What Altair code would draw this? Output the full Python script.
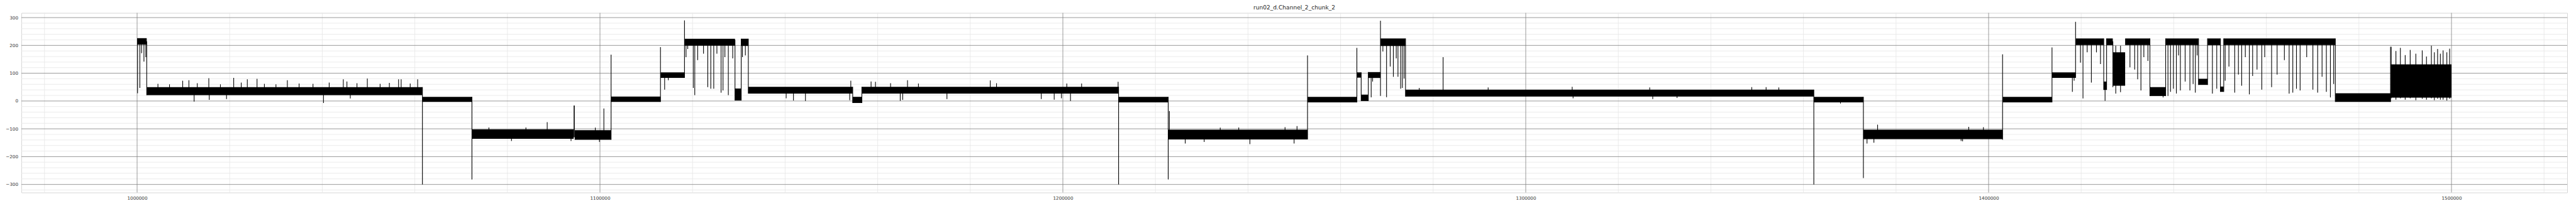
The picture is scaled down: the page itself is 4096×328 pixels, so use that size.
import altair as alt
import pandas as pd

TITLE = "run02_d.Channel_2_chunk_2"

# axis tick values
x_major = [1000000, 1100000, 1200000, 1300000, 1400000, 1500000]
x_minor = [980000, 1020000, 1040000, 1060000, 1080000, 1120000, 1140000, 1160000,
           1180000, 1220000, 1240000, 1260000, 1280000, 1320000, 1340000, 1360000,
           1380000, 1420000, 1440000, 1460000, 1480000, 1520000]
y_major = [-300, -200, -100, 0, 100, 200, 300]
y_minor = [-320, -280, -260, -240, -220, -180, -160, -140, -120, -80, -60, -40, -20,
           20, 40, 60, 80, 120, 140, 160, 180, 220, 240, 260, 280]

# noise bands of the signal: start, end, low, high
band_x0 = [1000000, 1002080, 1061640, 1072340, 1094320, 1094540, 1102400, 1113070,
           1118260, 1129170, 1130510, 1132050, 1154600, 1156580, 1212040, 1222760,
           1252860, 1263520, 1264450, 1265990, 1268620, 1274030, 1362240, 1372950,
           1403020, 1413700, 1418790, 1424870, 1425490, 1426830, 1429500, 1434850,
           1438250, 1445350, 1447300, 1450080, 1450800, 1474900, 1486840]
band_x1 = [1002080, 1061640, 1072340, 1094320, 1094540, 1102400, 1113070, 1118260,
           1129170, 1130510, 1132050, 1154600, 1156580, 1212040, 1222760, 1252860,
           1263520, 1264450, 1265990, 1268620, 1274030, 1362240, 1372950, 1403020,
           1413700, 1418790, 1424870, 1425490, 1426830, 1429500, 1434850, 1438250,
           1445350, 1447300, 1450080, 1450800, 1474900, 1486840, 1500000]
band_lo = [203, 21, -3, -136, -130, -139, -3, 83,
           199, 2, 198, 27, -7, 27, -5, -138,
           -5, 84, 0, 83, 198, 16, -5, -137,
           -5, 83, 201, 40, 201, 55, 201, 18,
           201, 58, 201, 33, 201, -3, 12]
band_hi = [226, 50, 15, -102, -16, -105, 16, 103,
           224, 45, 224, 51, 15, 51, 15, -103,
           15, 103, 23, 104, 225, 41, 15, -103,
           15, 103, 225, 70, 225, 175, 225, 50,
           225, 80, 225, 52, 225, 28, 132]

# individual excursions / transitions: position, low, high
spike_x = [
    # transitions between levels
    1002080, 1061640, 1072340, 1102400, 1113070, 1118260, 1129170, 1130510, 1132050,
    1154600, 1156580, 1212040, 1222760, 1223020, 1252860, 1263520, 1264450, 1265990,
    1268620, 1274030, 1362240, 1372950, 1403020, 1413700, 1418790, 1424870, 1425490,
    1434850, 1438250, 1445350, 1447300, 1450080, 1450800, 1474900, 1486840,
    # start high state dips
    1000100, 1000590, 1000970, 1001480, 1001890,
    # level A
    1009850, 1011190, 1015490, 1020870, 1023810, 1025910, 1032460, 1044550, 1045330,
    1049740, 1056490, 1057050, 1060610, 1004500, 1007000, 1013000, 1018000, 1022500,
    1027500, 1030000, 1035000, 1038000, 1041500, 1047500, 1052500, 1054500, 1059000,
    1012320, 1015590, 1019320, 1040270, 1046060,
    # level C / C2
    1088600, 1080880, 1093750, 1076000, 1084000, 1098990, 1100840, 1099890,
    # level E
    1113970, 1114760,
    # high F
    1118590, 1118960, 1120160, 1120480, 1121110, 1122370, 1123290, 1123940, 1124580,
    1125260, 1126160, 1126580, 1126990, 1127730, 1128680, 1130780, 1131410,
    # level G / G2
    1140230, 1141800, 1144390, 1153950, 1154190,
    1158570, 1159520, 1162780, 1166440, 1168800, 1184310, 1185670, 1200850, 1204050,
    1211940, 1164870, 1165400, 1174960, 1195340, 1198130, 1199690, 1201650,
    # level I
    1226440, 1230540, 1240410, 1249960, 1250590, 1234000, 1238000, 1248000,
    # K2 and high
    1266610, 1266920, 1269140, 1269930, 1270720, 1271400, 1272030, 1272400, 1272980,
    1273350, 1273720,
    # level L
    1282150, 1277000, 1291880, 1310040, 1326780, 1348840, 1351930, 1354680,
    1310230, 1327440, 1332690,
    # level M / N
    1368000, 1376020, 1373730, 1375220, 1394060, 1395710, 1398880, 1394380,
    # P, HA, gap, mixed
    1418100, 1418480, 1419850, 1420390, 1422200, 1424170, 1421300, 1423300,
    1425160, 1426850, 1427470, 1428500,
    # HC, low, HD, HE
    1430540, 1431560, 1432200, 1432910, 1433540, 1434420, 1437700,
    1438750, 1439300, 1439930, 1440560, 1441030, 1441430, 1442460, 1443490, 1444180,
    1444660, 1445050, 1448350, 1449290,
    # HF
    1451110, 1451920, 1453170, 1453970, 1454680, 1455460, 1456330, 1457040, 1457990,
    1459020, 1459650, 1461140, 1462330, 1463900, 1464930, 1465720, 1466510, 1467300,
    1468720, 1470060, 1471090, 1472040, 1472970, 1473840, 1474550,
    # final noisy state
    1486970, 1488000, 1488960, 1490000, 1491080, 1492300, 1493680, 1494600, 1495660,
    1496300, 1497000, 1497600, 1498190, 1499000, 1499600,
]
spike_lo = [
    21, -300, -282, -139, -3, 83, 2, 2, 27,
    -7, -7, -300, -282, -110, -138, -5, 0, 0,
    18, 16, -300, -277, -139, -5, 83, 40, 40,
    18, 18, 58, 58, 33, 33, -3, -3,
    28, 47, 172, 142, 158,
    30, 30, 30, 30, 30, 30, 30, 30, 30,
    30, 30, 30, 30, 30, 30, 30, 30, 30,
    30, 30, 30, 30, 30, 30, 30, 30, 30,
    -2, 4, 7, -7, 9,
    -120, -144, -144, -120, -120, -120, -120, -147,
    41, 75,
    158, 187, 47, 21, 147, 170, 50, 44, 44,
    170, 30, 38, 158, 21, 153, 158, 164,
    10, 2, 0, 3, 35,
    35, 35, 35, 35, 35, 35, 35, 35, 35,
    35, 1, 4, 7, 7, 5, 10, 0,
    -153, -147, -155, -153, -120, -120, -120, -120,
    13, 70, 178, 14, 124, 87, 153, 87, 44,
    47, 81,
    25, 25, 25, 25, 25, 25, 25, 25,
    10, 7, 11,
    -9, -120, -153, -150, -144, -120, -120, -145,
    33, 73, 138, 9, 66, 133, 175, 175,
    1, 50, 27, 32,
    121, 113, 78, 38, 158, 144, 13,
    18, 33, 44, 27, 164, 38, 70, 38, 61,
    30, 164, 27, 44,
    73, 124, 30, 95, 55, 158, 24, 90, 113,
    41, 158, 50, 95, 147, 27, 30, 44, 38,
    158, 41, 30, 87, 33, 13, 61,
    10, 5, 10, 5, 10, 3, 8, 5, 10,
    3, 8, 5, 5, 2, 8,
]
spike_hi = [
    215, 50, 15, 167, 194, 290, 220, 224, 224,
    51, 51, 51, 15, -36, 164, 191, 103, 104,
    289, 225, 41, 15, 168, 193, 285, 225, 225,
    225, 225, 225, 225, 225, 225, 225, 195,
    215, 215, 215, 215, 215,
    73, 75, 82, 83, 78, 80, 75, 78, 70,
    81, 78, 78, 78, 62, 60, 64, 60, 66,
    62, 60, 63, 62, 66, 64, 62, 65, 63,
    30, 30, 30, 30, 30,
    -76, -120, -120, -95, -95, -96, -27, -120,
    90, 90,
    215, 215, 215, 215, 215, 215, 215, 215, 215,
    215, 215, 215, 215, 215, 215, 215, 215,
    35, 35, 35, 35, 73,
    70, 69, 64, 75, 63, 74, 64, 63, 63,
    69, 35, 35, 35, 35, 35, 35, 35,
    -120, -120, -120, -120, -90, -96, -95, -94,
    95, 95, 215, 215, 215, 215, 215, 215, 215,
    215, 215,
    158, 47, 49, 51, 49, 50, 50, 49,
    25, 25, 25,
    5, -85, -120, -120, -120, -93, -94, -120,
    95, 95, 215, 215, 215, 215, 215, 215,
    60, 215, 199, 199,
    215, 215, 215, 215, 215, 215, 30,
    215, 215, 215, 215, 215, 215, 215, 215, 215,
    215, 215, 215, 215,
    215, 215, 215, 215, 215, 215, 215, 215, 215,
    215, 215, 215, 215, 215, 215, 215, 215, 215,
    215, 215, 215, 215, 215, 215, 215,
    195, 180, 191, 165, 184, 170, 182, 160, 199,
    175, 187, 170, 182, 175, 188,
]

df_bands = pd.DataFrame({"x0": band_x0, "x1": band_x1, "lo": band_lo, "hi": band_hi})
df_spikes = pd.DataFrame({"x": spike_x, "lo": spike_lo, "hi": spike_hi})

xsc = alt.Scale(domain=[975000, 1525000], nice=False, zero=False)
ysc = alt.Scale(domain=[-329, 317], nice=False, zero=False)

FONT = "DejaVu Sans"
xax = alt.Axis(values=x_major, format="d", grid=False, ticks=False, tickSize=0,
               domain=False, labelFontSize=7.2, labelFont=FONT, labelColor="#333333",
               labelPadding=5, title=None, labelFlush=False, labelOverlap=False)
yax = alt.Axis(values=y_major, format="d", grid=False, ticks=False, tickSize=0,
               domain=False, labelFontSize=7.2, labelFont=FONT, labelColor="#333333",
               labelPadding=5.5, title=None, labelOverlap=False)

gx_minor = alt.Chart(pd.DataFrame({"v": x_minor})).mark_rule(
    color="#e6e6e6", strokeWidth=0.8).encode(x=alt.X("v:Q", scale=xsc, axis=xax))
gy_minor = alt.Chart(pd.DataFrame({"v": y_minor})).mark_rule(
    color="#e6e6e6", strokeWidth=0.8).encode(y=alt.Y("v:Q", scale=ysc, axis=yax))
gx_major = alt.Chart(pd.DataFrame({"v": x_major})).mark_rule(
    color="#808080", strokeWidth=0.8).encode(x=alt.X("v:Q", scale=xsc, axis=xax))
gy_major = alt.Chart(pd.DataFrame({"v": y_major})).mark_rule(
    color="#808080", strokeWidth=0.8).encode(y=alt.Y("v:Q", scale=ysc, axis=yax))

bands = alt.Chart(df_bands).mark_rect(color="black").encode(
    x=alt.X("x0:Q", scale=xsc, axis=xax), x2="x1:Q",
    y=alt.Y("lo:Q", scale=ysc, axis=yax), y2="hi:Q")

spikes = alt.Chart(df_spikes).mark_rule(color="black", strokeWidth=1.1).encode(
    x=alt.X("x:Q", scale=xsc, axis=xax),
    y=alt.Y("lo:Q", scale=ysc, axis=yax), y2="hi:Q")

chart = alt.layer(gx_minor, gy_minor, gx_major, gy_major, bands, spikes).properties(
    width=4048, height=286,
    title=alt.TitleParams(TITLE, fontSize=9.1, font=FONT, fontWeight="normal",
                          color="#262626", anchor="middle", offset=3),
    padding={"left": 26, "top": 12.5, "right": 5, "bottom": 20},
    autosize=alt.AutoSizeParams(type="none"),
).configure_view(stroke="#d6d6d6", strokeWidth=1)

chart.save("out.html", embed_options={"renderer": "svg", "actions": False})
